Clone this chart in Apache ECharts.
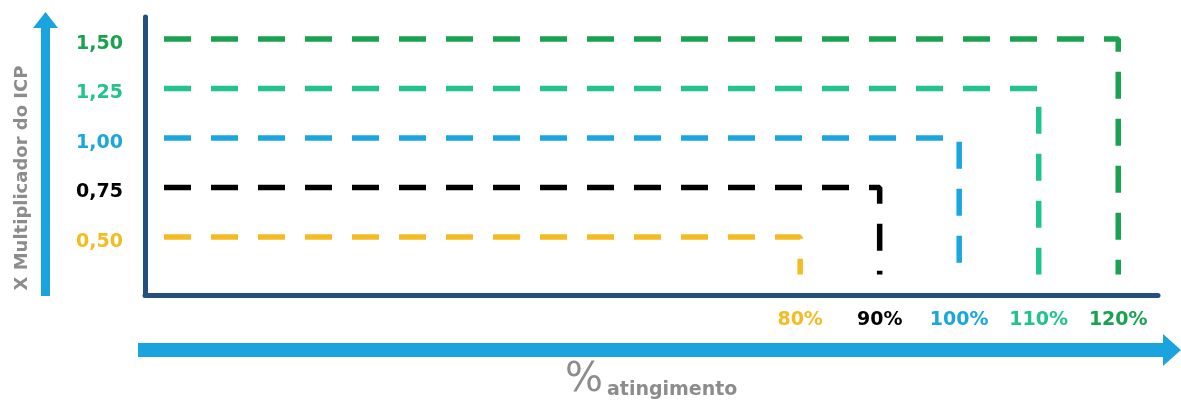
<!DOCTYPE html>
<html>
<head>
<meta charset="utf-8">
<script src="https://cdn.jsdelivr.net/npm/echarts@6/dist/echarts.min.js"></script>
<style>html,body{margin:0;padding:0;background:#fff;}#c{width:1181px;height:400px;}</style>
</head>
<body>
<div id="c"></div>
<script>
// ---- data ----
var levels = [0.50, 0.75, 1.00, 1.25, 1.50];          // multiplier (y)
var targets = [80, 90, 100, 110, 120];                 // % atingimento (x)
var yTickLabels = ['0,50', '0,75', '1,00', '1,25', '1,50'];
var xTickLabels = ['80%', '90%', '100%', '110%', '120%'];
var lineStart = 0;      // x where the horizontal dashes begin
var dropEnd = 0.31;     // y where vertical dashes stop
var yAxisTitle = 'X Multiplicador do ICP';
var xAxisTitlePct = '%';
var xAxisTitleWord = 'atingimento';

// ---- styles ----
var colors = ['#f4bb22', '#000000', '#1aa6e0', '#22c38e', '#19a24f'];
var navy = '#24507f';
var arrowBlue = '#1ba3df';
var gray = '#8c8c8c';
var font = 'DejaVu Sans';

function makeRich(size, pad) {
  var r = {};
  colors.forEach(function (c, i) {
    r['c' + i] = { color: c, fontWeight: 'bold', fontSize: size, fontFamily: font, padding: pad };
  });
  return r;
}

var series = levels.map(function (v, i) {
  return {
    type: 'line',
    symbol: 'none',
    data: [[lineStart, v], [targets[i], v], [targets[i], dropEnd]],
    lineStyle: { color: colors[i], width: 5.5, type: [27, 20], cap: 'butt' },
    z: 2
  };
});

var chart = echarts.init(document.getElementById('c'));
chart.setOption({
  animation: false,
  backgroundColor: '#fff',
  grid: { left: 145, right: 23, top: 17, bottom: 105 },
  xAxis: {
    type: 'value',
    min: -2.39,
    max: 125,
    splitLine: { show: false },
    axisTick: { show: false },
    axisLine: { show: true, onZero: false, lineStyle: { color: navy, width: 5 } },
    axisLabel: {
      customValues: targets,
      margin: 16,
      formatter: function (val) {
        var i = targets.indexOf(val);
        return i < 0 ? '' : '{c' + i + '|' + xTickLabels[i] + '}';
      },
      rich: makeRich(19, [0, 0, 0, 0])
    }
  },
  yAxis: {
    type: 'value',
    min: 0.207,
    max: 1.611,
    splitLine: { show: false },
    axisTick: { show: false },
    axisLine: { show: true, onZero: false, lineStyle: { color: navy, width: 5 } },
    axisLabel: {
      customValues: levels,
      margin: 22,
      formatter: function (val) {
        var i = -1;
        levels.forEach(function (l, k) { if (Math.abs(l - val) < 1e-6) i = k; });
        return i < 0 ? '' : '{c' + i + '|' + yTickLabels[i] + '}';
      },
      rich: makeRich(19, [10, 0, 0, 0])
    }
  },
  series: series,
  graphic: [
    // vertical arrow
    { type: 'rect', shape: { x: 41, y: 26, width: 9, height: 270 }, style: { fill: arrowBlue } },
    { type: 'polygon', shape: { points: [[45.5, 12], [33, 28], [58, 28]] }, style: { fill: arrowBlue } },
    // horizontal arrow
    { type: 'rect', shape: { x: 138, y: 343, width: 1027, height: 14 }, style: { fill: arrowBlue } },
    { type: 'polygon', shape: { points: [[1181, 350], [1163, 334], [1163, 366]] }, style: { fill: arrowBlue } },
    // y title
    {
      type: 'text', x: 22, y: 178, rotation: Math.PI / 2,
      style: { text: yAxisTitle, fill: gray, font: 'bold 18px "' + font + '"', textAlign: 'center', textVerticalAlign: 'middle' }
    },
    // x title
    {
      type: 'text', x: 565, y: 401,
      style: { text: xAxisTitlePct, fill: gray, font: '40px "' + font + '"', textAlign: 'left', textVerticalAlign: 'bottom' }
    },
    {
      type: 'text', x: 607, y: 400,
      style: { text: xAxisTitleWord, fill: gray, font: 'bold 19px "' + font + '"', textAlign: 'left', textVerticalAlign: 'bottom' }
    }
  ]
});
</script>
</body>
</html>
